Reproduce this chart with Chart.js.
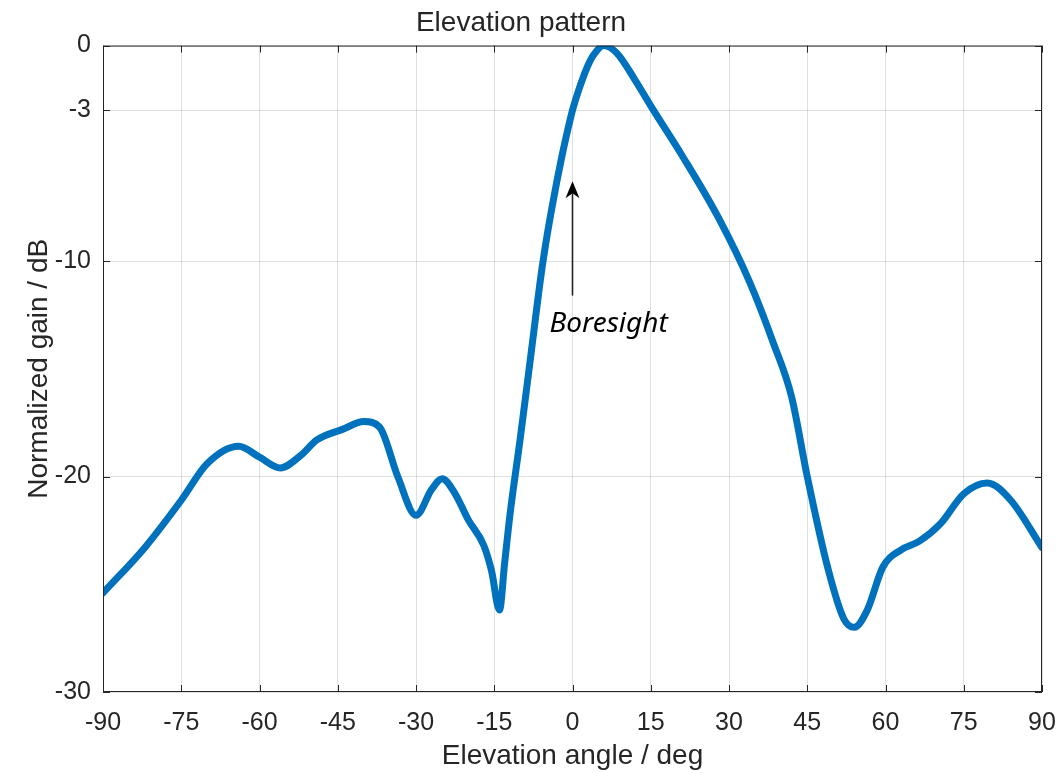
<!DOCTYPE html>
<html>
<head>
<meta charset="utf-8">
<script src="https://cdn.jsdelivr.net/npm/chart.js@4"></script>
<style>
  html, body { margin: 0; padding: 0; background: #fff; }
  #wrap { width: 1063px; height: 773px; }
</style>
</head>
<body>
<div id="wrap"><canvas id="myChart"></canvas></div>
<script>
// elevation angle (deg) and normalized gain (dB)
const angles = [-90, -82, -75, -70, -64, -60, -56, -52, -49, -44, -40, -37, -33.5, -30, -27, -25,
  -22.5, -20, -17, -15.5, -14, -13, -12, -10, -8, -6, -5, -4, -3, -2, -1, 0, 1, 2, 3, 4, 6, 8.5,
  12, 15, 21, 28, 34, 38.5, 42, 45, 49, 52, 54, 56.5, 59.5, 63, 66.5, 70.5, 75, 79.5, 84, 90];
const gains = [-25.4, -23.3, -21.1, -19.4, -18.6, -19.1, -19.6, -19.0, -18.3, -17.8, -17.45, -17.7,
  -20.0, -21.8, -20.6, -20.1, -20.8, -22.0, -23.2, -24.4, -26.2, -24.0, -21.8, -18.2, -14.4, -10.6,
  -9.0, -7.6, -6.3, -5.1, -4.0, -3.0, -2.2, -1.5, -0.9, -0.45, 0, -0.35, -1.6, -2.8, -5.1, -8.0,
  -11.0, -13.8, -16.3, -20.0, -24.3, -26.6, -27.0, -26.2, -24.2, -23.4, -23.0, -22.2, -20.8,
  -20.3, -21.1, -23.3];

const xTicks = [-90, -75, -60, -45, -30, -15, 0, 15, 30, 45, 60, 75, 90];
const yTicks = [-30, -20, -10, -3, 0];

// annotation: arrow at boresight
const arrowX = 0;
const arrowFrom = -11.6;
const arrowTo = -6.3;
const labelX = -4.4;
const labelY = -12.9;
const labelText = "Boresight";

const textColor = "#262626";
const fontFam = "'Liberation Sans', Arial, Helvetica";

const boxAndTicks = {
  id: "boxAndTicks",
  afterDraw(chart) {
    const { ctx, chartArea: a, scales } = chart;
    ctx.save();
    ctx.strokeStyle = textColor;
    ctx.lineWidth = 1;
    ctx.strokeRect(a.left + 0.5, a.top + 0.5, a.right - a.left - 1, a.bottom - a.top - 1);
    const len = 7;
    ctx.beginPath();
    xTicks.forEach((v) => {
      const px = Math.round(scales.x.getPixelForValue(v)) + 0.5;
      ctx.moveTo(px, a.bottom); ctx.lineTo(px, a.bottom - len);
      ctx.moveTo(px, a.top); ctx.lineTo(px, a.top + len);
    });
    yTicks.forEach((v) => {
      const py = Math.round(scales.y.getPixelForValue(v)) + 0.5;
      ctx.moveTo(a.left, py); ctx.lineTo(a.left + len, py);
      ctx.moveTo(a.right, py); ctx.lineTo(a.right - len, py);
    });
    ctx.stroke();

    // arrow + label
    const ax = scales.x.getPixelForValue(arrowX);
    const y0 = scales.y.getPixelForValue(arrowFrom);
    const y1 = scales.y.getPixelForValue(arrowTo);
    ctx.strokeStyle = "#222";
    ctx.lineWidth = 1.6;
    ctx.beginPath();
    ctx.moveTo(ax, y0);
    ctx.lineTo(ax, y1 + 12);
    ctx.stroke();
    ctx.fillStyle = "#000";
    ctx.beginPath();
    ctx.moveTo(ax, y1);
    ctx.lineTo(ax - 7, y1 + 17);
    ctx.lineTo(ax, y1 + 12);
    ctx.lineTo(ax + 7, y1 + 17);
    ctx.closePath();
    ctx.fill();

    ctx.font = "italic 28px 'Noto Sans'";
    ctx.textAlign = "left";
    ctx.textBaseline = "middle";
    ctx.fillStyle = "#000";
    ctx.fillText(labelText, scales.x.getPixelForValue(labelX), scales.y.getPixelForValue(labelY));
    ctx.restore();
  },
};

new Chart(document.getElementById("myChart"), {
  type: "line",
  data: {
    datasets: [
      {
        data: angles.map((a, i) => ({ x: a, y: gains[i] })),
        borderColor: "#0072BD",
        borderWidth: 7,
        pointRadius: 0,
        cubicInterpolationMode: "monotone",
        fill: false,
        borderCapStyle: "round",
        borderJoinStyle: "round",
      },
    ],
  },
  options: {
    responsive: true,
    maintainAspectRatio: false,
    animation: false,
    layout: { padding: { left: 0, right: 21, top: 0, bottom: 0 } },
    plugins: {
      legend: { display: false },
      tooltip: { enabled: false },
      title: {
        display: true,
        text: "Elevation pattern",
        color: textColor,
        font: { family: fontFam, size: 28, weight: "normal" },
        padding: { top: 6, bottom: 6 },
      },
    },
    scales: {
      x: {
        type: "linear",
        min: -90,
        max: 90,
        afterBuildTicks: (s) => { s.ticks = xTicks.map((v) => ({ value: v })); },
        afterFit: (s) => { s.height = 81; s.paddingRight = 0; s.paddingLeft = 0; },
        ticks: {
          color: textColor,
          font: { family: fontFam, size: 25 },
          padding: 16,
          maxRotation: 0,
          autoSkip: false,
        },
        grid: { color: "rgba(0,0,0,0.12)", drawTicks: false },
        border: { display: false },
        title: {
          display: true,
          text: "Elevation angle / deg",
          color: textColor,
          font: { family: fontFam, size: 28 },
          padding: { top: 0, bottom: 0 },
        },
      },
      y: {
        type: "linear",
        min: -30,
        max: 0,
        afterBuildTicks: (s) => { s.ticks = yTicks.map((v) => ({ value: v })); },
        afterFit: (s) => { s.width = 103; },
        ticks: {
          color: textColor,
          font: { family: fontFam, size: 25 },
          padding: 12,
          autoSkip: false,
        },
        grid: { color: "rgba(0,0,0,0.12)", drawTicks: false },
        border: { display: false },
        title: {
          display: true,
          text: "Normalized gain / dB",
          color: textColor,
          font: { family: fontFam, size: 28 },
          padding: { top: 22, bottom: 0 },
        },
      },
    },
  },
  plugins: [boxAndTicks],
});
</script>
</body>
</html>
